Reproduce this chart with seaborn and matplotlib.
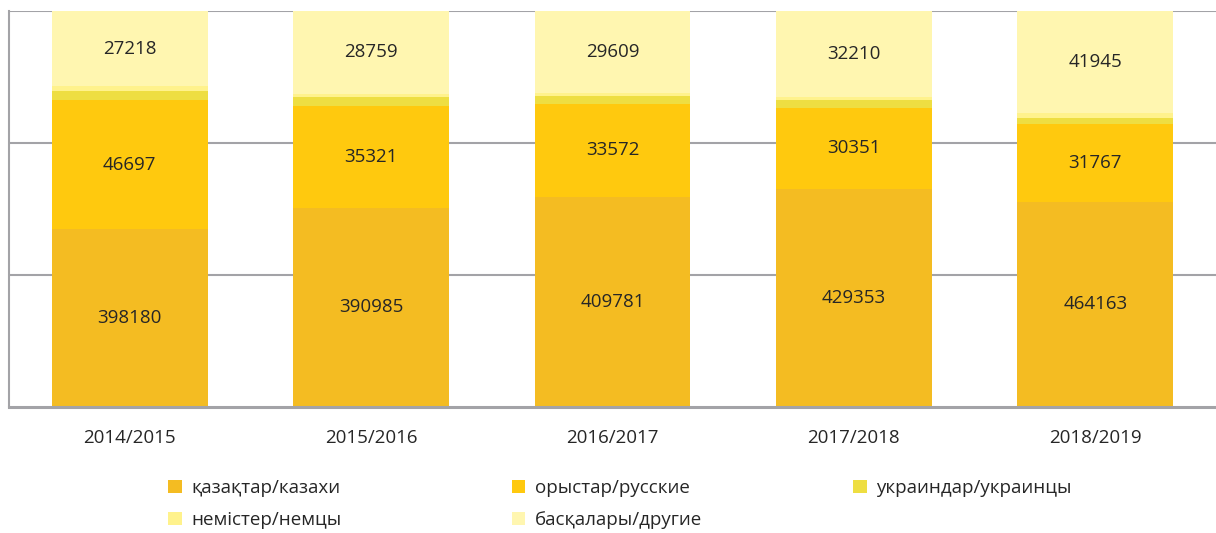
import matplotlib
matplotlib.use("Agg")
import matplotlib.pyplot as plt
import seaborn as sns
import pandas as pd
from matplotlib.patches import Patch

years = ['2014/2015', '2015/2016', '2016/2017', '2017/2018', '2018/2019']
kazakh = [398180, 390985, 409781, 429353, 464163]
russian = [46697, 35321, 33572, 30351, 31767]
ukrainian = [3400, 3200, 2800, 2900, 2800]
german = [1600, 1200, 1200, 1400, 1900]
others = [27218, 28759, 29609, 32210, 41945]

names = ['қазақтар/казахи', 'орыстар/русские', 'украиндар/украинцы',
         'немістер/немцы', 'басқалары/другие']
colors = ['#F4BC22', '#FFC90E', '#EEDE42', '#FFF28C', '#FFF6B0']

sns.set_theme(style="white")
plt.rcParams['font.family'] = ['Open Sans', 'Noto Sans', 'DejaVu Sans']

df = pd.DataFrame({'year': years, 'K': kazakh, 'R': russian, 'U': ukrainian,
                   'G': german, 'O': others})
total = df[['K', 'R', 'U', 'G', 'O']].sum(axis=1)
for c in ['K', 'R', 'U', 'G', 'O']:
    df[c + 's'] = df[c] / total
df['c1'] = df['Ks']
df['c2'] = df['c1'] + df['Rs']
df['c3'] = df['c2'] + df['Us']
df['c4'] = df['c3'] + df['Gs']
df['c5'] = df['c4'] + df['Os']

YMIN = 0.7
fig = plt.figure(figsize=(12.16, 5.33), dpi=100)
ax = fig.add_axes([9 / 1216, 126 / 533, 1207 / 1216, 396 / 533])

grid_c = '#A3A3A7'
for yv in [0.8, 0.9, 1.0]:
    ax.axhline(yv, color=grid_c, lw=1.5, zorder=0)

for col, color in zip(['c5', 'c4', 'c3', 'c2', 'c1'], colors[::-1]):
    sns.barplot(data=df, x='year', y=col, color=color, width=0.645,
                saturation=1, ax=ax, zorder=2, linewidth=0)

txt_c = '#262626'
fs = 13.5
for i in range(len(years)):
    ax.text(i, (YMIN + df['c1'][i]) / 2, str(kazakh[i]), ha='center', va='center',
            fontsize=fs, color=txt_c, zorder=3)
    ax.text(i, df['c1'][i] + df['Rs'][i] / 2, str(russian[i]), ha='center', va='center',
            fontsize=fs, color=txt_c, zorder=3)
    ax.text(i, df['c4'][i] + df['Os'][i] / 2, str(others[i]), ha='center', va='center',
            fontsize=fs, color=txt_c, zorder=3)

ax.set_ylim(YMIN, 1.0)
ax.set_xlim(-0.5, 4.5)
ax.set_xlabel('')
ax.set_ylabel('')
ax.set_yticks([])
ax.tick_params(axis='x', length=0, pad=15.5, labelsize=fs, labelcolor=txt_c)
for s in ['top', 'right']:
    ax.spines[s].set_visible(False)
ax.spines['left'].set_color(grid_c)
ax.spines['left'].set_linewidth(1.5)
ax.spines['bottom'].set_color(grid_c)
ax.spines['bottom'].set_linewidth(2.2)
ax.spines['left'].set_zorder(4)
ax.spines['bottom'].set_zorder(4)

handles = [Patch(facecolor=c, edgecolor='none') for c in colors]
leg_kw = dict(loc='upper left', frameon=False, fontsize=fs, handlelength=0.72,
              handleheight=0.72, handletextpad=0.5, columnspacing=9.1,
              labelspacing=0.75, borderpad=0, borderaxespad=0, labelcolor='#262626')
order = [0, 3, 1, 4]
fig.legend([handles[i] for i in order], [names[i] for i in order], ncol=2,
           bbox_to_anchor=(168 / 1216, 1 - 479 / 533), **leg_kw)
fig.legend([handles[2]], [names[2]], ncol=1,
           bbox_to_anchor=(853 / 1216, 1 - 479 / 533), **leg_kw)

fig.savefig('out.png', dpi=100)
